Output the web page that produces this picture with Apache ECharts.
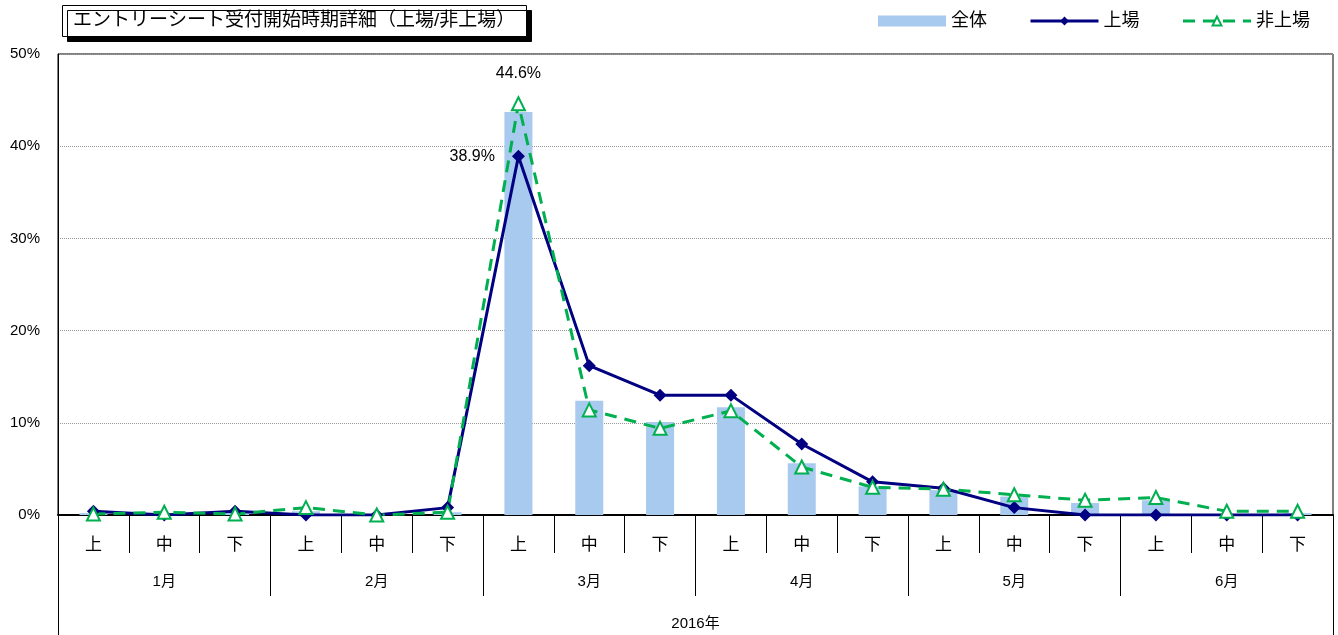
<!DOCTYPE html>
<html>
<head>
<meta charset="utf-8">
<script src="https://cdn.jsdelivr.net/npm/echarts@6/dist/echarts.min.js"></script>
<style>
  html, body { margin: 0; padding: 0; background: #fff; }
  #chart { width: 1338px; height: 635px; }
</style>
</head>
<body>
<div id="chart"></div>
<script>
// 期間（上旬/中旬/下旬）
const periods = ['上', '中', '下', '上', '中', '下', '上', '中', '下', '上', '中', '下', '上', '中', '下', '上', '中', '下'];
const months = ['1月', '2月', '3月', '4月', '5月', '6月'];
const yearLabel = ['2016年'];

// 値 (%)
const allValues = [0.2, 0.1, 0.2, 0.4, 0.1, 0.3, 43.7, 12.4, 10.1, 11.7, 5.6, 3.1, 2.7, 2.0, 1.3, 1.6, 0.1, 0.2];
const listedValues = [0.4, 0.0, 0.4, 0.0, 0.0, 0.8, 38.9, 16.2, 13.0, 13.0, 7.7, 3.6, 2.9, 0.8, 0.0, 0.0, 0.0, 0.0];
const unlistedValues = [0.1, 0.3, 0.1, 0.8, 0.0, 0.3, 44.6, 11.4, 9.4, 11.3, 5.2, 3.0, 2.8, 2.2, 1.6, 1.9, 0.4, 0.4];

const peakIndex = 6;
const FONT = "'Liberation Sans', 'Noto Sans CJK JP', sans-serif";

const chart = echarts.init(document.getElementById('chart'));

let option = {
    animation: false,
    textStyle: { fontFamily: FONT, color: '#000' },
    title: {
        text: 'エントリーシート受付開始時期詳細（上場/非上場）',
        left: 62,
        top: 5,
        padding: [5, 11, 5, 11],
        borderColor: '#000',
        borderWidth: 1,
        backgroundColor: '#fff',
        shadowColor: '#000',
        shadowOffsetX: 5,
        shadowOffsetY: 5,
        shadowBlur: 0,
        textStyle: { fontFamily: FONT, fontSize: 19, lineHeight: 22, fontWeight: 'normal', color: '#000' }
    },
    legend: {
        right: 23,
        top: 7,
        itemWidth: 68,
        itemHeight: 11,
        itemGap: 42,
        textStyle: { fontFamily: FONT, fontSize: 18, color: '#000' },
        data: [
            { name: '全体', icon: 'rect' },
            { name: '上場', lineStyle: { width: 3 } },
            { name: '非上場', lineStyle: { width: 3 } }
        ]
    },
    grid: {
        left: 58,
        right: 5,
        top: 54,
        bottom: 120,
        show: true,
        borderColor: '#000',
        borderWidth: 1
    },
    xAxis: [
        {
            type: 'category',
            data: periods,
            position: 'bottom',
            axisLine: { show: true, lineStyle: { color: '#000', width: 2 } },
            axisTick: { show: true, interval: 0, length: 38, lineStyle: { color: '#000' } },
            axisLabel: { interval: 0, margin: 22, fontSize: 17, color: '#000' }
        },
        {
            type: 'category',
            data: months,
            position: 'bottom',
            axisLine: { show: false },
            axisTick: { show: true, interval: 0, length: 81, lineStyle: { color: '#000' } },
            axisLabel: { interval: 0, margin: 59, fontSize: 15, color: '#000' }
        },
        {
            type: 'category',
            data: yearLabel,
            position: 'bottom',
            axisLine: { show: false },
            axisTick: { show: true, interval: 0, length: 125, lineStyle: { color: '#000' } },
            axisLabel: { interval: 0, margin: 101, fontSize: 15, color: '#000' }
        }
    ],
    yAxis: {
        type: 'value',
        min: 0,
        max: 50,
        interval: 10,
        axisLine: { show: true, lineStyle: { color: '#000' } },
        axisTick: { show: false },
        axisLabel: { formatter: '{value}%', fontSize: 15, margin: 18, color: '#000' },
        splitLine: { show: true, lineStyle: { color: '#999', type: 'dotted', width: 1 } }
    },
    series: [
        {
            name: '全体',
            type: 'bar',
            xAxisIndex: 0,
            barWidth: 28,
            itemStyle: { color: '#A8CAEE' },
            data: allValues
        },
        {
            name: '上場',
            type: 'line',
            xAxisIndex: 0,
            symbol: 'diamond',
            symbolSize: 13,
            lineStyle: { color: '#000080', width: 3 },
            itemStyle: { color: '#000080' },
            data: listedValues.map((v, i) => i === peakIndex
                ? { value: v, label: { show: true, position: 'left', distance: 17, formatter: '{c}%', fontSize: 16, color: '#000' } }
                : v)
        },
        {
            name: '非上場',
            type: 'line',
            xAxisIndex: 0,
            symbol: 'triangle',
            symbolSize: 13,
            lineStyle: { color: '#00B050', width: 3, type: [12, 8] },
            itemStyle: { color: '#fff', borderColor: '#00B050', borderWidth: 2 },
            data: unlistedValues.map((v, i) => i === peakIndex
                ? { value: v, label: { show: true, position: 'top', distance: 15, formatter: '{c}%', fontSize: 16, color: '#000' } }
                : v)
        }
    ]
};

chart.setOption(option);
</script>
</body>
</html>
